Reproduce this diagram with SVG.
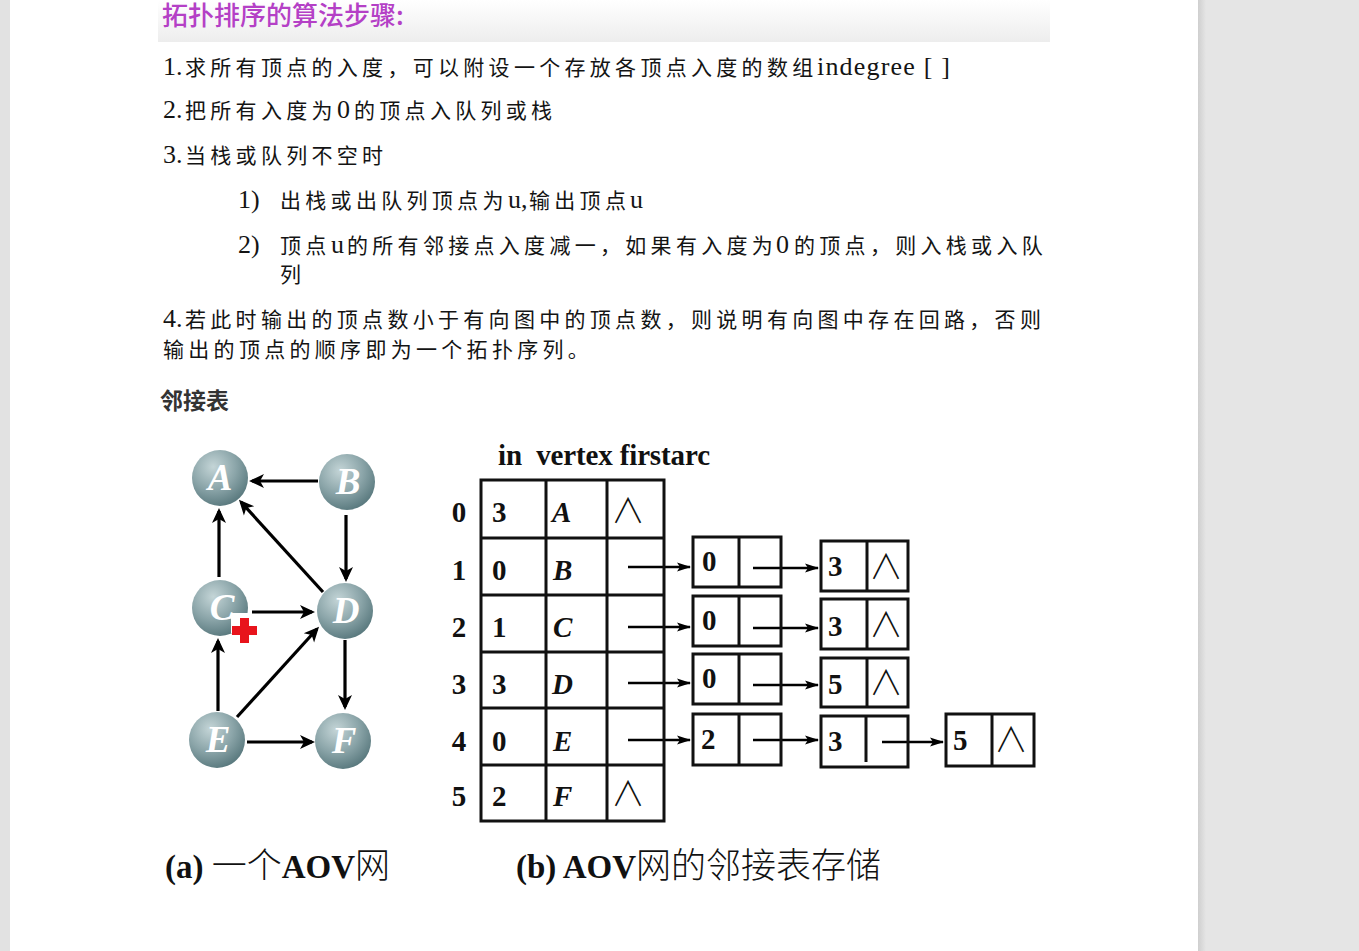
<svg xmlns="http://www.w3.org/2000/svg" width="1359" height="951" viewBox="0 0 1359 951">
<style>
.cn{font-family:"Noto Sans CJK SC","Noto Sans CJK JP",sans-serif;font-size:21px;letter-spacing:4.3px;fill:#141414}
.lt{font-family:"Liberation Serif",serif;font-size:26px;fill:#141414}
.tb{font-family:"Liberation Serif",serif;font-weight:bold;font-size:29px;fill:#111}
.ti{font-family:"Liberation Serif",serif;font-weight:bold;font-style:italic;font-size:29px;fill:#111}
.nul{font-family:"Noto Sans CJK SC",sans-serif;font-weight:300;font-size:34px;fill:#111}
.cell{fill:none;stroke:#111;stroke-width:3}
.vl{font-family:"Liberation Serif",serif;font-weight:bold;font-style:italic;font-size:37px;fill:#fff;text-anchor:middle}
.ge{stroke:#000;stroke-width:3.2;fill:none;marker-end:url(#ah)}
.te{stroke:#000;stroke-width:2.5;fill:none;marker-end:url(#ah2)}
.cap{font-family:"Liberation Serif",serif;font-weight:bold;font-size:33px;fill:#111}
.capc{font-family:"Noto Sans CJK SC",sans-serif;font-weight:300;font-size:35px;fill:#111}
</style>
<defs>
<linearGradient id="hdr" x1="0" y1="0" x2="0" y2="1">
<stop offset="0" stop-color="#ffffff"/><stop offset="1" stop-color="#ededed"/>
</linearGradient>
<linearGradient id="rsh" x1="0" y1="0" x2="1" y2="0">
<stop offset="0" stop-color="#cfcfcf"/><stop offset="1" stop-color="#e5e5e5"/>
</linearGradient>
<radialGradient id="ball" cx="0.38" cy="0.3" r="0.75">
<stop offset="0" stop-color="#c4d5d7"/><stop offset="0.55" stop-color="#8aa4a8"/><stop offset="1" stop-color="#56767b"/>
</radialGradient>
<marker id="ah" markerUnits="userSpaceOnUse" markerWidth="16" markerHeight="16" refX="12" refY="8" orient="auto">
<path d="M0,1 L15,8 L0,15 L4,8 z" fill="#000"/>
</marker>
<marker id="ah2" markerUnits="userSpaceOnUse" markerWidth="16" markerHeight="12" refX="13" refY="5" orient="auto">
<path d="M0,0.5 L14,5 L0,9.5 L3,5 z" fill="#000"/>
</marker>
</defs>

<rect x="0" y="0" width="1359" height="951" fill="#ffffff"/>
<rect x="0" y="0" width="10" height="951" fill="#e2e2e2"/>
<rect x="1198" y="0" width="161" height="951" fill="#e5e5e5"/>
<rect x="1198" y="0" width="8" height="951" fill="url(#rsh)"/>
<rect x="158" y="0" width="892" height="42" fill="url(#hdr)"/>

<g id="text">
<text x="162" y="25" font-family="'Noto Sans CJK SC',sans-serif" font-size="26" font-weight="500" fill="#b440c6">拓扑排序的算法步骤:</text>
<text x="163" y="75"><tspan class="lt">1.</tspan><tspan class="cn" x="185">求所有顶点的入度，可以附设一个存放各顶点入度的数组</tspan><tspan class="lt" x="817" textLength="133">indegree [ ]</tspan></text>
<text x="163" y="118"><tspan class="lt">2.</tspan><tspan class="cn" x="185">把所有入度为</tspan><tspan class="lt" x="337">0</tspan><tspan class="cn" x="354">的顶点入队列或栈</tspan></text>
<text x="163" y="163"><tspan class="lt">3.</tspan><tspan class="cn" x="185">当栈或队列不空时</tspan></text>
<text x="238" y="208"><tspan class="lt">1)</tspan><tspan class="cn" x="280">出栈或出队列顶点为</tspan><tspan class="lt" x="508">u,</tspan><tspan class="cn" x="529">输出顶点</tspan><tspan class="lt" x="630">u</tspan></text>
<text x="238" y="253"><tspan class="lt">2)</tspan><tspan class="cn" x="280">顶点</tspan><tspan class="lt" x="331">u</tspan><tspan class="cn" x="347">的所有邻接点入度减一，如果有入度为</tspan><tspan class="lt" x="776">0</tspan><tspan class="cn" x="794">的顶点，则入栈或入队</tspan></text>
<text x="280" y="282" class="cn">列</text>
<text x="163" y="327"><tspan class="lt">4.</tspan><tspan class="cn" x="185">若此时输出的顶点数小于有向图中的顶点数，则说明有向图中存在回路，否则</tspan></text>
<text x="163" y="357" class="cn">输出的顶点的顺序即为一个拓扑序列。</text>
<text x="160" y="409" font-family="'Noto Sans CJK SC',sans-serif" font-size="23" font-weight="bold" fill="#333">邻接表</text>
</g>

<g id="connectors">
<line class="ge" x1="318" y1="481" x2="252" y2="481"/>
<line class="ge" x1="219" y1="577" x2="219" y2="511"/>
<line class="ge" x1="323" y1="592" x2="241" y2="502"/>
<line class="ge" x1="346" y1="515" x2="346" y2="579"/>
<line class="ge" x1="252" y1="612" x2="312" y2="612"/>
<line class="ge" x1="218" y1="711" x2="218" y2="641"/>
<line class="ge" x1="237" y1="717" x2="317" y2="629"/>
<line class="ge" x1="345" y1="640" x2="345" y2="707"/>
<line class="ge" x1="247" y1="742" x2="312" y2="742"/>

<line class="te" x1="628" y1="567" x2="690" y2="567"/>
<line class="te" x1="628" y1="627" x2="690" y2="627"/>
<line class="te" x1="628" y1="683" x2="690" y2="683"/>
<line class="te" x1="628" y1="740" x2="690" y2="740"/>
<line class="te" x1="753" y1="568" x2="818" y2="568"/>
<line class="te" x1="753" y1="628" x2="818" y2="628"/>
<line class="te" x1="753" y1="685" x2="818" y2="685"/>
<line class="te" x1="753" y1="740" x2="818" y2="740"/>
<line class="te" x1="882" y1="742" x2="943" y2="742"/>
</g>

<g id="node-A"><circle cx="220" cy="478" r="28" fill="url(#ball)"/><text class="vl" x="220" y="490">A</text></g>
<g id="node-B"><circle cx="347" cy="482" r="28" fill="url(#ball)"/><text class="vl" x="348" y="494">B</text></g>
<g id="node-C"><circle cx="220" cy="608" r="28" fill="url(#ball)"/><text class="vl" x="222" y="620">C</text>
<rect x="231" y="613" width="19" height="20" fill="#fff"/>
<path d="M240,618 h9 v8 h8 v9 h-8 v8 h-9 v-8 h-8 v-9 h8 z" fill="#e8141c"/></g>
<g id="node-D"><circle cx="345" cy="611" r="28" fill="url(#ball)"/><text class="vl" x="346" y="623">D</text></g>
<g id="node-E"><circle cx="217" cy="740" r="28" fill="url(#ball)"/><text class="vl" x="218" y="752">E</text></g>
<g id="node-F"><circle cx="343" cy="741" r="28" fill="url(#ball)"/><text class="vl" x="344" y="753">F</text></g>

<g id="table">
<text class="tb" x="498" y="465" font-size="26" style="white-space:pre" textLength="212">in  vertex firstarc</text>
<rect class="cell" x="481" y="480" width="183" height="341"/>
<line class="cell" x1="546" y1="480" x2="546" y2="821"/>
<line class="cell" x1="607" y1="480" x2="607" y2="821"/>
<line class="cell" x1="481" y1="538" x2="664" y2="538"/>
<line class="cell" x1="481" y1="595" x2="664" y2="595"/>
<line class="cell" x1="481" y1="652" x2="664" y2="652"/>
<line class="cell" x1="481" y1="708" x2="664" y2="708"/>
<line class="cell" x1="481" y1="765" x2="664" y2="765"/>
<g text-anchor="middle">
<text class="tb" x="459" y="522">0</text><text class="tb" x="459" y="580">1</text><text class="tb" x="459" y="637">2</text><text class="tb" x="459" y="694">3</text><text class="tb" x="459" y="751">4</text><text class="tb" x="459" y="806">5</text>
</g>
<text class="tb" x="492" y="522">3</text><text class="tb" x="492" y="580">0</text><text class="tb" x="492" y="637">1</text><text class="tb" x="492" y="694">3</text><text class="tb" x="492" y="751">0</text><text class="tb" x="492" y="806">2</text>
<text class="ti" x="552" y="522">A</text><text class="ti" x="553" y="580">B</text><text class="ti" x="553" y="637">C</text><text class="ti" x="552" y="694">D</text><text class="ti" x="553" y="751">E</text><text class="ti" x="553" y="806">F</text>
<text class="nul" x="611" y="523">∧</text><text class="nul" x="611" y="806">∧</text>
</g>

<g id="list-1">
<rect class="cell" x="693" y="537" width="88" height="50"/><line class="cell" x1="739" y1="537" x2="739" y2="587"/>
<text class="tb" x="702" y="571">0</text>
<rect class="cell" x="821" y="541" width="87" height="50"/><line class="cell" x1="867" y1="541" x2="867" y2="591"/>
<text class="tb" x="828" y="576">3</text><text class="nul" x="869" y="579">∧</text>
</g>
<g id="list-2">
<rect class="cell" x="693" y="596" width="88" height="50"/><line class="cell" x1="739" y1="596" x2="739" y2="646"/>
<text class="tb" x="702" y="630">0</text>
<rect class="cell" x="821" y="599" width="87" height="50"/><line class="cell" x1="867" y1="599" x2="867" y2="649"/>
<text class="tb" x="828" y="636">3</text><text class="nul" x="869" y="637">∧</text>
</g>
<g id="list-3">
<rect class="cell" x="693" y="654" width="88" height="50"/><line class="cell" x1="739" y1="654" x2="739" y2="704"/>
<text class="tb" x="702" y="688">0</text>
<rect class="cell" x="821" y="658" width="87" height="49"/><line class="cell" x1="867" y1="658" x2="867" y2="707"/>
<text class="tb" x="828" y="694">5</text><text class="nul" x="869" y="695">∧</text>
</g>
<g id="list-4">
<rect class="cell" x="693" y="714" width="88" height="51"/><line class="cell" x1="739" y1="714" x2="739" y2="765"/>
<text class="tb" x="701" y="749">2</text>
<rect class="cell" x="821" y="716" width="87" height="51"/><line class="cell" x1="866" y1="716" x2="866" y2="762"/>
<text class="tb" x="828" y="751">3</text>
<rect class="cell" x="946" y="714" width="88" height="52"/><line class="cell" x1="992" y1="714" x2="992" y2="766"/>
<text class="tb" x="953" y="750">5</text><text class="nul" x="994" y="752">∧</text>
</g>

<g id="captions">
<text x="165" y="878"><tspan class="cap">(a) </tspan><tspan class="capc">一个</tspan><tspan class="cap">AOV</tspan><tspan class="capc">网</tspan></text>
<text x="516" y="878"><tspan class="cap">(b) AOV</tspan><tspan class="capc">网的邻接表存储</tspan></text>
</g>
</svg>
